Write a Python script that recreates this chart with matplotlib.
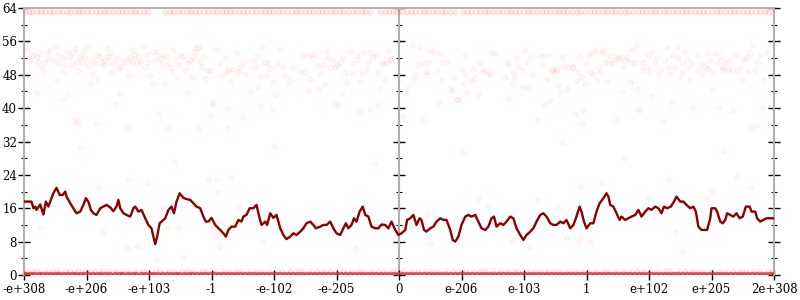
import numpy as np
import matplotlib
matplotlib.use("Agg")
import matplotlib.pyplot as plt
from matplotlib.ticker import MultipleLocator

# x axis: float64 bit-pattern order, tick i -> label i
tick_labels = ["-e+308", "-e+206", "-e+103", "-1", "-e-102", "-e-205", "0",
               "e-206", "e-103", "1", "e+102", "e+205", "2e+308"]

# running average of bits of error
avg_x = [0.00, 0.12, 0.15, 0.18, 0.20, 0.26, 0.31, 0.35, 0.39, 0.44, 0.47, 0.52, 0.57, 0.62,
         0.66, 0.68, 0.74, 0.79, 0.84, 0.90, 0.95, 0.99, 1.03, 1.07, 1.11, 1.16, 1.22, 1.27,
         1.32, 1.38, 1.43, 1.48, 1.51, 1.54, 1.59, 1.64, 1.70, 1.75, 1.78, 1.83, 1.88, 1.94,
         1.99, 2.04, 2.07, 2.10, 2.13, 2.17, 2.20, 2.26, 2.31, 2.36, 2.40, 2.44, 2.49, 2.55,
         2.60, 2.66, 2.71, 2.76, 2.82, 2.87, 2.91, 2.95, 3.00, 3.06, 3.11, 3.14, 3.19, 3.23,
         3.27, 3.32, 3.38, 3.43, 3.48, 3.51, 3.56, 3.61, 3.67, 3.72, 3.77, 3.80, 3.86, 3.89,
         3.94, 3.99, 4.04, 4.10, 4.15, 4.20, 4.26, 4.31, 4.36, 4.42, 4.47, 4.52, 4.58, 4.63,
         4.67, 4.74, 4.79, 4.84, 4.90, 4.95, 5.00, 5.06, 5.11, 5.15, 5.19, 5.24, 5.28, 5.32,
         5.37, 5.42, 5.46, 5.51, 5.56, 5.62, 5.67, 5.72, 5.78, 5.83, 5.88, 5.94, 5.99, 6.04,
         6.10, 6.13, 6.18, 6.23, 6.28, 6.33, 6.36, 6.40, 6.44, 6.50, 6.55, 6.60, 6.66, 6.71,
         6.76, 6.82, 6.86, 6.90, 6.95, 7.00, 7.06, 7.11, 7.16, 7.22, 7.27, 7.32, 7.38, 7.43,
         7.48, 7.52, 7.56, 7.62, 7.67, 7.72, 7.78, 7.83, 7.88, 7.94, 7.99, 8.04, 8.10, 8.15,
         8.20, 8.26, 8.31, 8.36, 8.42, 8.47, 8.52, 8.58, 8.63, 8.68, 8.74, 8.79, 8.83, 8.89,
         8.92, 8.96, 9.00, 9.06, 9.11, 9.16, 9.21, 9.27, 9.32, 9.35, 9.38, 9.43, 9.48, 9.53,
         9.56, 9.62, 9.67, 9.72, 9.78, 9.83, 9.88, 9.94, 9.99, 10.04, 10.10, 10.15, 10.20,
         10.24, 10.29, 10.35, 10.40, 10.44, 10.50, 10.55, 10.60, 10.66, 10.71, 10.75, 10.79,
         10.84, 10.90, 10.93, 10.98, 11.00, 11.06, 11.09, 11.14, 11.18, 11.22, 11.25, 11.30,
         11.35, 11.40, 11.45, 11.50, 11.55, 11.61, 11.64, 11.70, 11.73, 11.78, 11.83, 11.88,
         11.94, 12.00]
avg_y = [17.6, 17.6, 16.0, 16.4, 15.6, 16.9, 14.5, 17.6, 16.4, 18.4, 19.6, 20.9, 19.2, 19.2,
         20.0, 18.8, 17.2, 16.0, 14.8, 15.2, 16.8, 18.4, 17.6, 15.6, 14.8, 14.4, 16.0, 16.4,
         16.8, 16.2, 15.3, 16.4, 18.0, 16.0, 14.8, 14.4, 14.0, 16.0, 16.4, 15.2, 15.6, 13.6,
         12.0, 11.2, 9.2, 7.4, 9.2, 12.4, 12.8, 13.6, 15.6, 16.4, 14.8, 17.6, 19.6, 18.5,
         18.2, 18.0, 17.2, 16.4, 16.0, 14.0, 12.8, 12.8, 13.7, 12.0, 11.2, 10.8, 10.0, 9.2,
         10.8, 11.6, 11.6, 13.2, 12.8, 14.0, 14.4, 16.0, 16.0, 16.8, 13.6, 12.0, 12.8, 12.0,
         14.8, 13.7, 14.4, 11.2, 9.6, 8.6, 9.2, 10.0, 9.6, 10.4, 11.2, 12.4, 12.8, 12.0,
         11.2, 11.6, 12.0, 12.0, 12.8, 11.2, 10.0, 9.6, 11.2, 12.4, 11.2, 12.0, 13.6, 12.8,
         15.2, 16.4, 14.4, 14.0, 11.6, 11.2, 11.2, 12.1, 12.0, 11.2, 12.8, 10.8, 9.6, 10.0,
         10.8, 13.2, 13.6, 14.4, 12.0, 13.6, 13.2, 10.8, 10.4, 11.2, 11.6, 12.8, 13.6, 13.2,
         13.2, 10.8, 8.4, 8.0, 9.2, 12.0, 14.0, 14.4, 14.0, 14.4, 12.8, 11.2, 10.8, 11.6,
         13.6, 14.0, 11.6, 12.4, 12.0, 12.8, 14.0, 13.6, 11.2, 9.6, 8.4, 9.6, 10.4, 11.2,
         12.8, 14.4, 14.8, 14.0, 12.4, 12.0, 12.0, 12.8, 12.4, 13.2, 11.2, 12.0, 13.6, 16.4,
         15.2, 12.8, 11.2, 12.4, 12.4, 15.2, 17.2, 18.4, 19.6, 18.8, 16.8, 16.4, 14.8, 13.2,
         14.0, 13.2, 13.6, 14.0, 14.4, 15.6, 14.0, 15.2, 16.0, 15.6, 16.4, 16.0, 14.8,
         16.4, 16.0, 16.4, 17.6, 18.8, 17.6, 17.6, 16.8, 16.0, 16.4, 15.2, 11.6,
         10.8, 10.8, 10.8, 13.6, 16.0, 16.0, 15.2, 12.8, 12.4, 13.2, 14.8, 14.4,
         14.0, 14.8, 13.6, 14.0, 16.4, 16.4, 15.2, 15.2, 13.6, 12.8, 13.2, 13.6,
         13.6, 13.6]

# samples with 64 bits of error (top row)
top_x = [0.02, 0.08, 0.13, 0.21, 0.27, 0.33, 0.41, 0.47, 0.55, 0.60, 0.68, 0.74, 0.81, 0.88,
         0.93, 1.01, 1.07, 1.15, 1.22, 1.28, 1.35, 1.43, 1.50, 1.56, 1.63, 1.71, 1.77, 1.84,
         1.92, 1.98, 2.26, 2.33, 2.39, 2.46, 2.53, 2.61, 2.67, 2.74, 2.80, 2.88, 2.95, 3.02,
         3.08, 3.16, 3.23, 3.30, 3.36, 3.44, 3.50, 3.57, 3.65, 3.71, 3.79, 3.86, 3.92, 3.99,
         4.07, 4.13, 4.20, 4.28, 4.35, 4.41, 4.49, 4.56, 4.62, 4.70, 4.77, 4.83, 4.91, 4.98,
         5.05, 5.11, 5.19, 5.26, 5.33, 5.40, 5.46, 5.53, 5.70, 5.77, 5.84, 5.90, 5.97, 6.04,
         6.12, 6.19, 6.25, 6.33, 6.40, 6.46, 6.54, 6.61, 6.68, 6.74, 6.82, 6.89, 7.02, 7.09,
         7.15, 7.23, 7.30, 7.37, 7.43, 7.51, 7.58, 7.64, 7.72, 7.79, 7.86, 7.92, 8.00, 8.07,
         8.13, 8.21, 8.28, 8.35, 8.41, 8.49, 8.56, 8.63, 8.69, 8.77, 8.84, 8.90, 8.98, 9.05,
         9.12, 9.18, 9.26, 9.33, 9.40, 9.46, 9.54, 9.61, 9.67, 9.75, 9.82, 9.89, 9.95, 10.03,
         10.10, 10.16, 10.24, 10.31, 10.38, 10.44, 10.52, 10.59, 10.65, 10.73, 10.80, 10.87,
         10.93, 11.01, 11.08, 11.14, 11.22, 11.29, 11.36, 11.42, 11.50, 11.57, 11.63, 11.71,
         11.78, 11.85, 11.91, 11.98]
top_val = 63

# samples with 1 bit of error
one_x = [0.05, 0.14, 0.22, 0.35, 0.44, 0.52, 0.66, 0.73, 0.85, 0.97, 1.04, 1.12, 1.25, 1.36,
         1.45, 1.58, 1.66, 1.79, 1.88, 1.95, 2.09, 2.17, 2.31, 2.40, 2.52, 2.63, 2.71, 2.84,
         2.92, 3.05, 3.18, 3.27, 3.39, 3.47, 3.60, 3.71, 3.80, 3.93, 4.04, 4.12, 4.25, 4.36,
         4.44, 4.57, 4.69, 4.78, 4.90, 5.01, 5.10, 5.23, 5.34, 5.42, 5.55, 5.67, 5.76, 5.88,
         5.97, 6.08, 6.19, 6.30, 6.41, 6.53, 6.62, 6.75, 6.86, 6.95, 7.07, 7.18, 7.29, 7.38,
         7.50, 7.61, 7.72, 7.83, 7.91, 8.04, 8.16, 8.25, 8.37, 8.48, 8.57, 8.70, 8.81, 8.92,
         9.03, 9.14, 9.26, 9.35, 9.47, 9.58, 9.69, 9.80, 9.91, 10.02, 10.13, 10.25, 10.34,
         10.46, 10.57, 10.68, 10.79, 10.88, 11.01, 11.12, 11.23, 11.34, 11.46, 11.55, 11.67,
         11.78, 11.90, 11.97]
one_val = 1

# samples with no error (bottom row, very dense)
zero_x = [0.00, 0.05, 0.11, 0.17, 0.24, 0.30, 0.37, 0.44, 0.51, 0.57, 0.64, 0.71, 0.78, 0.84,
          0.91, 0.97, 1.04, 1.11, 1.18, 1.24, 1.31, 1.38, 1.46, 1.53, 1.59, 1.67, 1.74, 1.80,
          1.88, 1.95, 2.02, 2.08, 2.15, 2.22, 2.29, 2.36, 2.43, 2.49, 2.57, 2.64, 2.70, 2.77,
          2.84, 2.91, 2.98, 3.05, 3.12, 3.19, 3.26, 3.33, 3.40, 3.47, 3.54, 3.61, 3.68, 3.75,
          3.82, 3.89, 3.96, 4.03, 4.10, 4.17, 4.24, 4.31, 4.38, 4.45, 4.52, 4.59, 4.66, 4.73,
          4.80, 4.87, 4.94, 5.01, 5.08, 5.15, 5.22, 5.29, 5.36, 5.43, 5.50, 5.57, 5.64, 5.71,
          5.78, 5.85, 5.92, 5.99, 6.06, 6.13, 6.20, 6.27, 6.34, 6.41, 6.48, 6.55, 6.62, 6.69,
          6.76, 6.83, 6.90, 6.97, 7.04, 7.11, 7.18, 7.25, 7.32, 7.39, 7.46, 7.53, 7.60, 7.67,
          7.74, 7.81, 7.88, 7.95, 8.02, 8.09, 8.16, 8.23, 8.30, 8.37, 8.44, 8.51, 8.58, 8.65,
          8.72, 8.79, 8.86, 8.93, 9.00, 9.07, 9.14, 9.21, 9.28, 9.35, 9.42, 9.49, 9.56, 9.63,
          9.70, 9.77, 9.84, 9.91, 9.98, 10.05, 10.12, 10.19, 10.26, 10.33, 10.40, 10.47,
          10.54, 10.61, 10.68, 10.75, 10.82, 10.89, 10.96, 11.03, 11.10, 11.17, 11.24, 11.31,
          11.38, 11.45, 11.52, 11.59, 11.66, 11.73, 11.80, 11.87, 11.94, 12.00]

# scattered samples (mostly the 44-56 bit cluster)
scatter_pts = [
    (0.04, 53.9), (0.10, 51.5), (0.15, 52.7), (0.20, 52.3), (0.23, 51.1), (0.20, 43.7),
    (0.26, 53.1), (0.28, 49.9), (0.31, 48.7), (0.34, 51.1), (0.36, 53.5), (0.39, 51.9),
    (0.42, 53.9), (0.47, 51.5), (0.50, 54.7), (0.52, 52.7), (0.55, 50.7), (0.52, 46.7),
    (0.60, 48.7), (0.63, 51.9), (0.66, 50.3), (0.68, 53.5), (0.74, 52.3), (0.76, 50.3),
    (0.79, 53.1), (0.82, 54.3), (0.84, 51.1), (0.87, 49.1), (0.90, 52.3), (0.92, 50.7),
    (0.95, 53.5), (0.98, 51.9), (1.00, 54.7), (1.03, 50.3), (1.06, 45.9), (1.08, 51.5),
    (1.11, 48.3), (1.14, 50.7), (1.16, 52.7), (1.19, 47.1), (1.22, 52.3), (1.24, 51.1),
    (1.27, 50.3), (1.30, 51.5), (1.32, 54.3), (1.35, 52.3), (1.38, 53.1), (1.40, 48.7),
    (1.43, 50.7), (1.48, 51.9), (1.51, 49.5), (1.54, 49.9), (1.54, 43.7), (1.59, 51.1),
    (1.64, 51.5), (1.67, 47.9), (1.70, 52.3), (1.72, 51.1), (1.75, 53.9), (1.78, 52.7),
    (1.80, 50.7), (1.83, 52.3), (1.86, 51.1), (1.91, 54.7), (1.94, 49.9), (1.96, 52.7),
    (1.99, 51.1), (2.02, 47.9), (2.04, 45.9), (2.07, 53.5), (2.10, 51.5), (2.12, 53.5),
    (2.18, 51.9), (2.20, 50.7), (2.23, 52.7), (2.26, 45.9), (2.28, 52.3), (2.31, 50.7),
    (2.34, 49.9), (2.36, 48.7), (2.39, 53.9), (2.42, 51.5), (2.44, 47.5), (2.47, 50.3),
    (2.50, 52.7), (2.55, 52.3), (2.58, 49.1), (2.60, 43.9), (2.63, 50.7), (2.66, 51.5),
    (2.68, 47.5), (2.71, 52.3), (2.74, 53.5), (2.76, 54.3), (2.79, 54.7), (2.82, 51.1),
    (2.84, 49.9), (2.87, 52.3), (2.90, 47.1), (2.92, 49.1), (2.98, 49.1), (3.00, 41.5),
    (3.03, 41.1), (3.08, 53.9), (3.14, 50.7), (3.19, 47.9), (3.22, 51.9), (3.24, 48.7),
    (3.27, 49.1), (3.30, 46.3), (3.35, 49.5), (3.40, 53.1), (3.43, 48.7), (3.46, 49.9),
    (3.51, 51.1), (3.54, 48.3), (3.62, 43.9), (3.67, 51.5), (3.70, 49.9), (3.72, 52.7),
    (3.75, 45.1), (3.78, 47.5), (3.80, 54.7), (3.86, 51.1), (3.88, 47.9), (3.91, 50.7),
    (3.94, 49.5), (3.99, 46.3), (4.02, 43.5), (4.04, 50.7), (4.10, 53.9), (4.15, 49.9),
    (4.18, 47.9), (4.20, 45.9), (4.26, 46.7), (4.31, 49.9), (4.42, 48.7), (4.47, 52.7),
    (4.50, 48.7), (4.52, 52.7), (4.55, 44.3), (4.58, 47.1), (4.60, 52.7), (4.63, 51.9),
    (4.68, 50.3), (4.71, 44.7), (4.74, 48.3), (4.79, 50.3), (4.82, 45.9), (4.84, 53.5),
    (4.87, 51.9), (4.90, 49.9), (4.95, 51.5), (4.98, 49.9), (5.00, 50.3), (5.03, 41.1),
    (5.06, 51.1), (5.08, 43.5), (5.11, 51.9), (5.14, 48.7), (5.16, 46.3), (5.22, 53.5),
    (5.24, 50.7), (5.27, 48.3), (5.32, 52.7), (5.35, 51.5), (5.38, 46.3), (5.40, 48.3),
    (5.43, 53.5), (5.48, 49.5), (5.51, 51.1), (5.54, 53.1), (5.59, 52.3), (5.64, 52.7),
    (5.67, 48.7), (5.70, 44.7), (5.72, 50.7), (5.75, 50.7), (5.78, 46.7), (5.80, 50.7),
    (5.83, 53.9), (5.86, 51.5), (5.88, 51.9),
    (0.63, 42.3), (0.71, 43.1), (0.82, 37.0), (0.87, 36.7), (1.16, 36.5), (1.46, 40.7),
    (1.67, 35.4), (2.15, 38.6), (2.31, 35.2), (2.79, 34.9), (2.98, 38.1), (3.24, 35.2),
    (3.27, 39.7), (3.51, 37.9), (3.78, 40.5), (3.99, 39.9), (5.38, 39.1), (5.54, 39.8),
    (5.67, 40.7), (4.98, 41.1),
    (6.07, 37.8), (6.12, 43.9), (6.15, 45.0), (6.21, 55.1), (6.23, 46.9), (6.26, 48.3),
    (6.31, 50.3), (6.34, 54.7), (6.36, 37.1), (6.39, 50.7), (6.42, 47.9), (6.44, 48.7),
    (6.47, 51.1), (6.50, 53.9), (6.55, 53.5), (6.60, 49.1), (6.63, 41.5), (6.66, 53.1),
    (6.68, 50.7), (6.68, 46.7), (6.76, 51.1), (6.82, 44.7), (6.87, 44.3), (6.90, 47.5),
    (6.92, 42.3), (6.95, 41.9), (7.00, 49.5), (7.03, 45.9), (7.06, 48.3), (7.06, 52.7),
    (7.08, 43.9), (7.14, 46.7), (7.19, 49.5), (7.22, 47.1), (7.27, 43.5), (7.30, 50.7),
    (7.32, 48.7), (7.38, 49.1), (7.43, 48.3), (7.46, 48.3), (7.48, 53.1), (7.54, 53.1),
    (7.70, 47.5), (7.72, 51.1), (7.75, 50.3), (7.75, 42.3), (7.80, 45.9), (7.83, 48.7),
    (7.86, 47.5), (7.88, 51.9), (7.91, 50.3), (7.96, 49.1), (7.99, 45.1), (8.02, 53.9),
    (8.04, 51.1), (8.07, 45.1), (8.10, 52.3), (8.12, 47.9), (8.23, 37.1), (8.26, 52.7),
    (8.28, 50.3), (8.31, 52.3), (8.34, 41.1), (8.36, 47.1), (8.39, 52.7), (8.42, 41.9),
    (8.44, 49.1), (8.47, 49.5), (8.50, 48.7), (8.52, 49.1), (8.55, 45.5), (8.58, 43.9),
    (8.60, 52.3), (8.63, 49.9), (8.68, 44.7), (8.71, 49.9), (8.76, 49.9), (8.79, 49.9),
    (8.82, 38.7), (8.84, 46.7), (8.87, 48.7), (8.90, 52.3), (8.92, 47.5), (8.95, 39.5),
    (8.95, 36.5), (8.98, 45.9), (9.00, 50.7), (9.03, 52.7), (9.06, 48.7), (9.08, 53.1),
    (9.11, 48.3), (9.14, 53.9), (9.16, 46.7), (9.19, 49.9), (9.22, 48.7), (9.24, 53.1),
    (9.27, 53.9), (9.30, 51.1), (9.32, 46.3), (9.35, 52.7), (9.38, 50.7), (9.43, 50.7),
    (9.46, 52.3), (9.48, 37.1), (9.51, 51.9), (9.54, 52.3), (9.56, 43.9), (9.59, 49.9),
    (9.62, 51.5), (9.64, 52.3), (9.70, 46.3), (9.72, 51.1), (9.75, 53.9), (9.78, 50.7),
    (9.80, 55.1), (9.80, 44.7), (9.83, 39.9), (9.86, 39.5), (9.88, 49.1), (9.91, 51.1),
    (9.96, 49.9), (9.99, 52.7), (10.02, 48.7), (10.04, 42.7), (10.07, 53.5), (10.10, 50.7),
    (10.12, 51.9), (10.15, 47.9), (10.18, 49.5), (10.23, 36.7), (10.26, 51.5), (10.28, 54.3),
    (10.31, 49.9), (10.34, 48.3), (10.36, 41.5), (10.39, 52.7), (10.42, 49.9), (10.44, 54.7),
    (10.47, 51.9), (10.50, 47.5), (10.52, 50.7), (10.55, 48.7), (10.58, 53.5), (10.60, 51.5),
    (10.63, 49.9), (10.66, 46.7), (10.68, 50.7), (10.71, 40.3), (10.76, 52.7), (10.79, 49.1),
    (10.84, 50.7), (10.87, 48.3), (10.90, 49.9), (10.92, 53.1), (10.95, 49.5), (10.98, 51.5),
    (11.00, 48.7), (11.03, 44.3), (11.06, 53.1), (11.08, 50.7), (11.11, 40.3), (11.14, 52.3),
    (11.16, 49.9), (11.19, 49.1), (11.22, 51.1), (11.27, 49.5), (11.30, 51.5), (11.32, 49.5),
    (11.35, 39.5), (11.38, 52.7), (11.40, 48.7), (11.46, 49.9), (11.48, 46.7), (11.51, 51.5),
    (11.56, 52.3), (11.59, 48.7), (11.62, 53.1), (11.64, 35.5), (11.67, 55.1), (11.70, 49.1),
    (11.72, 35.9), (11.75, 50.7), (11.78, 52.7), (11.80, 40.3), (11.83, 46.7), (11.88, 53.5),
    # sparse low/middle samples
    (0.26, 11.5), (0.86, 18.0), (1.18, 21.1), (1.26, 10.1), (1.65, 6.5), (1.66, 22.8),
    (1.82, 7.0), (1.98, 22.3), (2.13, 3.6), (2.22, 16.3), (2.30, 11.3), (2.46, 11.3),
    (2.54, 4.1), (2.94, 23.0), (3.06, 9.6), (3.09, 22.8), (3.10, 19.9), (3.14, 6.7),
    (3.14, 12.7), (3.30, 23.2), (3.42, 16.3), (3.81, 7.9), (4.26, 10.8), (4.78, 13.4),
    (5.30, 6.5), (6.45, 14.6), (6.50, 7.7), (7.26, 18.5), (7.42, 16.8), (7.82, 7.9),
    (8.10, 6.7), (8.22, 18.0), (8.54, 16.1), (8.69, 9.1), (8.86, 7.7), (8.90, 21.1),
    (8.90, 9.1), (9.06, 7.9), (9.25, 22.1), (9.98, 18.5), (10.30, 22.8), (10.42, 10.3),
    (10.53, 5.5), (10.93, 18.5), (11.01, 19.9), (11.41, 23.5), (11.62, 20.8),
    (0.90, 30.5), (2.40, 27.0), (4.00, 31.0), (5.60, 26.5), (7.00, 29.5), (8.60, 32.0),
    (9.60, 28.0), (11.20, 30.0),
]

plt.rcParams["font.family"] = ["DejaVu Serif"]

fig = plt.figure(figsize=(8, 3), dpi=100)
ax = fig.add_axes([0.03, 0.0833, 0.9375, 0.89])

pt_face = (1.0, 0.0, 0.0, 0.03)
pt_edge = (1.0, 0.0, 0.0, 0.06)
sx, sy = np.array(scatter_pts).T
ax.scatter(sx, sy, s=14, facecolors=pt_face, edgecolors=pt_edge, linewidths=0.6, zorder=2)
ax.scatter(top_x, [top_val] * len(top_x), s=14, facecolors=(1.0, 0.0, 0.0, 0.08),
           edgecolors=(1.0, 0.0, 0.0, 0.1), linewidths=0.6, zorder=2)
ax.scatter(one_x, [one_val] * len(one_x), s=14, facecolors=(1.0, 0.0, 0.0, 0.06),
           edgecolors=(1.0, 0.0, 0.0, 0.08), linewidths=0.6, zorder=2)
ax.scatter(zero_x, [0] * len(zero_x), s=22, facecolors=(0.88, 0.15, 0.15, 0.75),
           edgecolors="none", zorder=4)

ax.plot(avg_x, avg_y, color="#8b0000", lw=1.7, zorder=5)

ax.set_xlim(0, 12)
ax.set_ylim(0, 64)
ax.set_xticks(range(len(tick_labels)))
ax.set_xticklabels(tick_labels)
ax.yaxis.set_major_locator(MultipleLocator(8))
ax.yaxis.set_minor_locator(MultipleLocator(4))

spine_gray = "#b0b0b0"
for side in ["left", "right", "top"]:
    ax.spines[side].set_color(spine_gray)
    ax.spines[side].set_linewidth(1.5)
ax.spines["bottom"].set_visible(False)

ax.tick_params(axis="y", which="major", direction="inout", length=8, width=1,
               right=True, labelsize=8.5, pad=1)
ax.tick_params(axis="y", which="minor", direction="inout", length=4, width=0.8, right=True)
ax.tick_params(axis="x", which="major", direction="inout", length=7, width=1,
               top=False, labelsize=8.5, pad=2)

# axis through zero in the middle
mid = ax.secondary_yaxis(0.5)
mid.yaxis.set_major_locator(MultipleLocator(8))
mid.yaxis.set_minor_locator(MultipleLocator(4))
for sp in mid.spines.values():
    sp.set_color(spine_gray)
    sp.set_linewidth(1.5)
mid.tick_params(which="major", direction="inout", length=8, width=1,
                labelleft=False, labelright=False)
mid.tick_params(which="minor", direction="inout", length=4, width=0.8)

fig.savefig("out.png", dpi=100)
